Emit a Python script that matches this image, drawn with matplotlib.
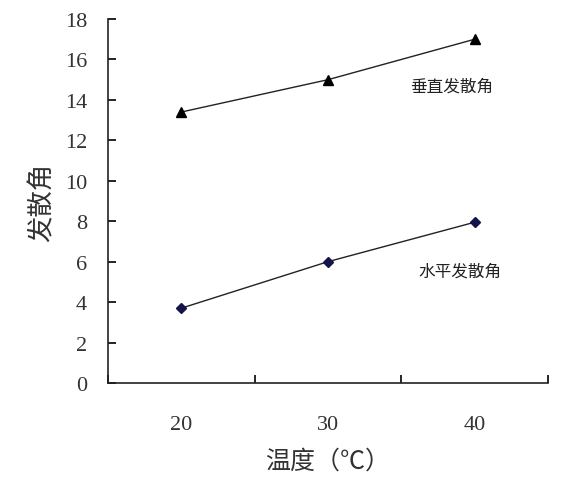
import numpy as np
import matplotlib.pyplot as plt

plt.rcParams['font.family'] = ['Noto Sans CJK SC', 'DejaVu Sans']

# data
temps = ['20', '30', '40']
vertical = [13.4, 15.0, 17.0]
horizontal = [3.7, 6.0, 7.95]
y_ticks = [0, 2, 4, 6, 8, 10, 12, 14, 16, 18]

fig = plt.figure(figsize=(5.73, 4.81), dpi=100)
ax = fig.add_axes([0.1885, 0.2017, 0.7679, 0.7567])

x = np.arange(len(temps))
ax.plot(x, vertical, color='#222222', lw=1.0, marker='^', ms=7,
        mfc='black', mec='black')
ax.plot(x, horizontal, color='#222222', lw=1.0, marker='D', ms=5.5,
        mfc='#14144a', mec='#14144a')

ax.text(1.84, 14.7, '垂直发散角', fontsize=12, ha='center', va='center',
        color='#222222')
ax.text(1.90, 5.55, '水平发散角', fontsize=12, ha='center', va='center',
        color='#222222')

ax.set_xlim(-0.5, 2.5)
ax.set_ylim(0, 18)
ax.spines['top'].set_visible(False)
ax.spines['right'].set_visible(False)
for s in ['left', 'bottom']:
    ax.spines[s].set_linewidth(1.2)
    ax.spines[s].set_color('#222222')

# major ticks between categories, labels on the category centres
ax.set_xticks([-0.5, 0.5, 1.5, 2.5])
ax.set_xticklabels([])
ax.set_xticks(x, minor=True)
ax.set_xticklabels(temps, minor=True, family='Liberation Serif', fontsize=16,
                   color='#333333')
ax.tick_params(axis='x', which='major', direction='in', length=6, width=1.2)
ax.tick_params(axis='x', which='minor', length=0, pad=23)

ax.set_yticks(y_ticks)
ax.set_yticklabels([str(v) for v in y_ticks], family='Liberation Serif',
                   fontsize=16, color='#333333')
ax.tick_params(axis='y', direction='in', length=6, width=1.2, pad=15)

ax.set_xlabel('温度（℃）', fontsize=18, color='#333333', labelpad=10)
ax.set_ylabel('发散角', fontsize=19, color='#333333', labelpad=7)

fig.savefig('out.png', dpi=100)
